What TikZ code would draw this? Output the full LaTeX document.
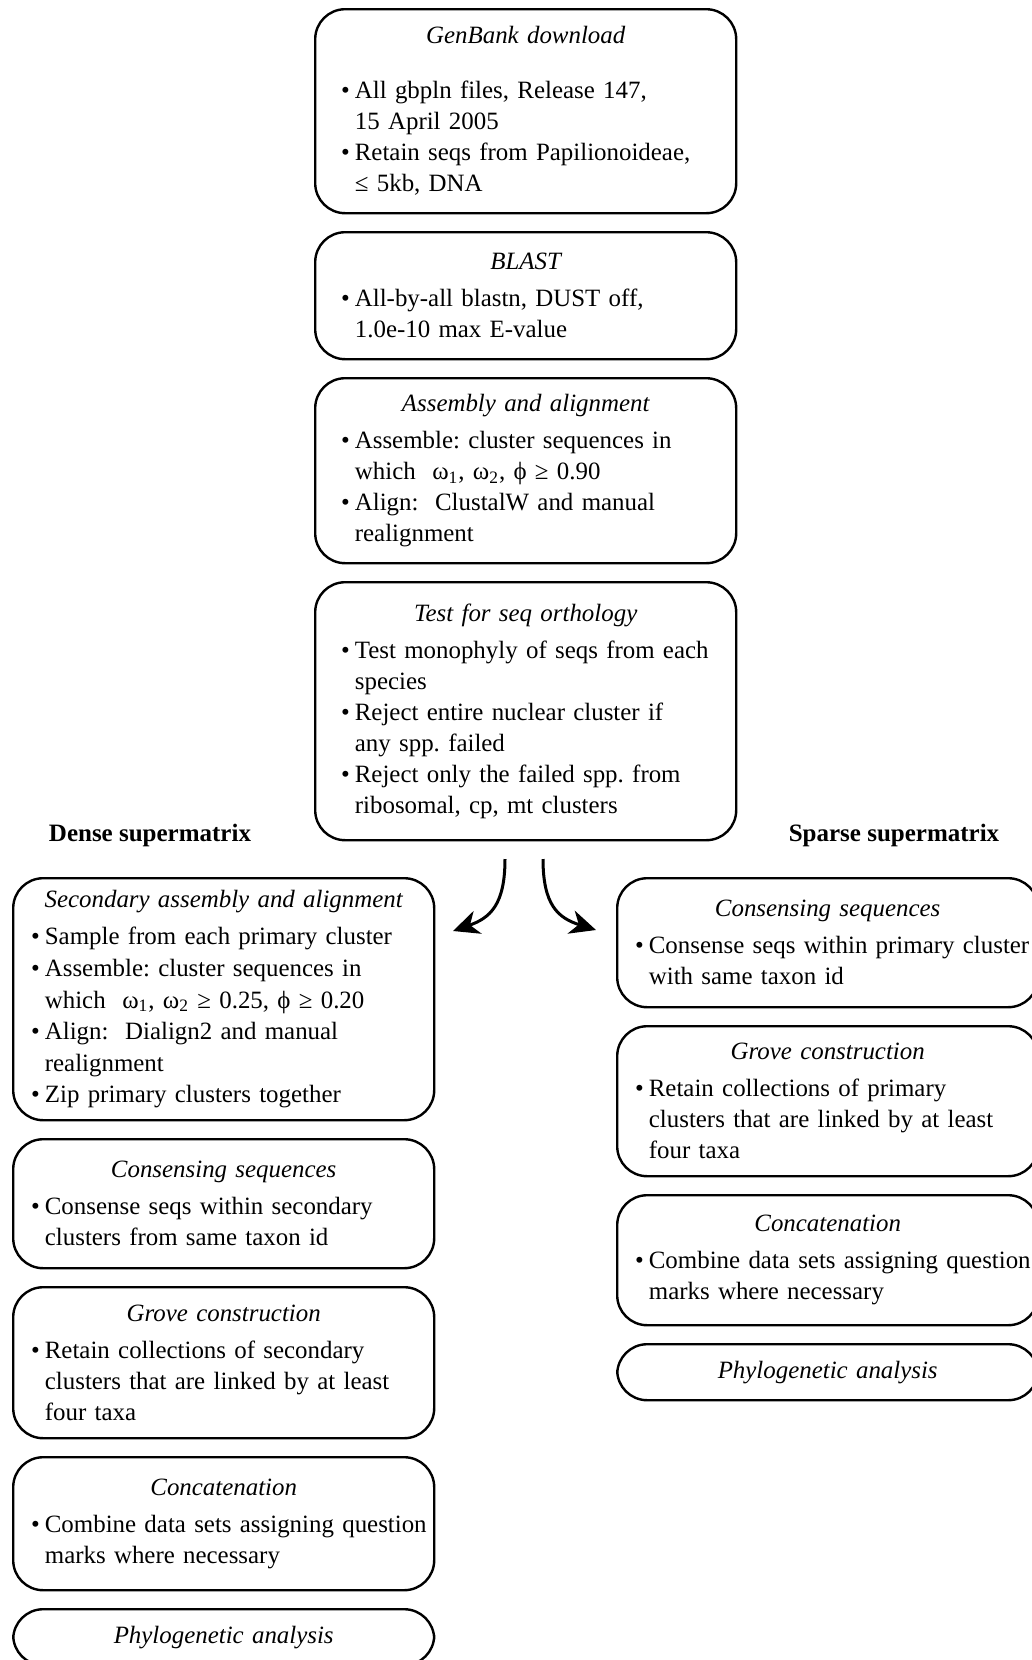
\documentclass[tikz,border=0pt]{standalone}
\usepackage{fontspec}
\setmainfont{Liberation Serif}
\usetikzlibrary{positioning,arrows.meta}

\newlength{\bulwd}
\newcommand{\boxhead}[1]{{\centering\itshape #1\par}\vspace{3pt}}
\newcommand{\bul}[1]{\par\settowidth{\bulwd}{\textbullet\hspace{0.2em}}\hangindent=\bulwd\hangafter=1\rightskip=-12pt plus 1fil\noindent\textbullet\hspace{0.2em}#1\par}

\begin{document}
\frenchspacing
\begin{tikzpicture}[x=0.5pt,y=-0.5pt]
        \tikzstyle{every node}=[font=\fontsize{12.45}{15.5}\selectfont];
        \tikzstyle{stepbox}=[draw, line width=1.2pt, rounded corners=15pt, align=left,
            anchor=north west, inner ysep=3pt];
        \tikzstyle{topbox}=[stepbox, text width=184.5pt, inner xsep=13pt];
        \tikzstyle{sidebox}=[stepbox, text width=192.5pt, inner xsep=9pt];
        \tikzstyle{branch}=[line width=1.5pt, -{Stealth[length=13pt,width=12pt,inset=4pt]}];
        \clip (0,0) rectangle (1032,1660);

        \node[topbox, minimum height=102pt] (genbank) at (314,8) {\boxhead{GenBank download}\vspace{9pt}
            \bul{All gbpln files, Release 147,\newline 15 April 2005}
            \bul{Retain seqs from Papilionoideae,\newline ≤ 5kb, DNA}};
        \node[topbox, minimum height=63.5pt, below=8.3pt of genbank.south west, anchor=north west] (blast) {\boxhead{BLAST}
            \bul{All-by-all blastn, DUST off,\newline 1.0e-10 max E-value}};
        \node[topbox, minimum height=92.5pt, below=8.3pt of blast.south west, anchor=north west] (assembly) {\boxhead{Assembly and alignment}
            \bul{Assemble: cluster sequences in\newline which\ \ ω\textsubscript{1}, ω\textsubscript{2}, ϕ ≥ 0.90}
            \bul{Align:\ \ ClustalW and manual\newline realignment}};
        \node[topbox, minimum height=129pt, below=8.3pt of assembly.south west, anchor=north west] (orthology) {\boxhead{Test for seq orthology}
            \bul{Test monophyly of seqs from each\newline species}
            \bul{Reject entire nuclear cluster if\newline any spp. failed}
            \bul{Reject only the failed spp. from\newline ribosomal, cp, mt clusters}};

        \node[font=\fontsize{12.5}{15.5}\selectfont\bfseries] (dense) at (150,835) {Dense supermatrix};
        \node[font=\fontsize{12.5}{15.5}\selectfont\bfseries] (sparse) at (894,835) {Sparse supermatrix};

        \node[sidebox, minimum height=121pt, font=\fontsize{12.45}{15.8}\selectfont] (secondary) at (12,877) {\boxhead{Secondary assembly and alignment}
            \bul{Sample from each primary cluster}
            \bul{Assemble: cluster sequences in\newline which\ \ ω\textsubscript{1}, ω\textsubscript{2} ≥ 0.25, ϕ ≥ 0.20}
            \bul{Align:\ \ Dialign2 and manual\newline realignment}
            \bul{Zip primary clusters together}};
        \node[sidebox, minimum height=64.5pt, below=8.3pt of secondary.south west, anchor=north west] (denseconsense) {\boxhead{Consensing sequences}
            \bul{Consense seqs within secondary\newline clusters from same taxon id}};
        \node[sidebox, minimum height=75.5pt, below=8.3pt of denseconsense.south west, anchor=north west] (densegrove) {\boxhead{Grove construction}
            \bul{Retain collections of secondary\newline clusters that are linked by at least\newline four taxa}};
        \node[sidebox, minimum height=66.5pt, below=8.3pt of densegrove.south west, anchor=north west] (denseconcat) {\boxhead{Concatenation}
            \bul{Combine data sets assigning question\newline marks where necessary}};
        \node[sidebox, minimum height=28pt, below=8.3pt of denseconcat.south west, anchor=north west] (densephylo) {{\centering\itshape Phylogenetic analysis\par}};

        \node[sidebox, minimum height=64.5pt] (sparseconsense) at (616,877) {\boxhead{Consensing sequences}
            \bul{Consense seqs within primary cluster\newline with same taxon id}};
        \node[sidebox, minimum height=75pt, below=8.3pt of sparseconsense.south west, anchor=north west] (sparsegrove) {\boxhead{Grove construction}
            \bul{Retain collections of primary\newline clusters that are linked by at least\newline four taxa}};
        \node[sidebox, minimum height=65pt, below=8.3pt of sparsegrove.south west, anchor=north west] (sparseconcat) {\boxhead{Concatenation}
            \bul{Combine data sets assigning question\newline marks where necessary}};
        \node[sidebox, minimum height=28pt, below=8.3pt of sparseconcat.south west, anchor=north west] (sparsephylo) {{\centering\itshape Phylogenetic analysis\par}};

        \coordinate (splitleft) at (505,859);
        \coordinate (splitright) at (543,859);
        \coordinate (toleft) at (453,931);
        \coordinate (toright) at (596,930);
        \draw[branch] (splitleft) .. controls (505,905) and (490,918) .. (toleft);
        \draw[branch] (splitright) .. controls (543,905) and (558,918) .. (toright);
    \end{tikzpicture}
\end{document}
